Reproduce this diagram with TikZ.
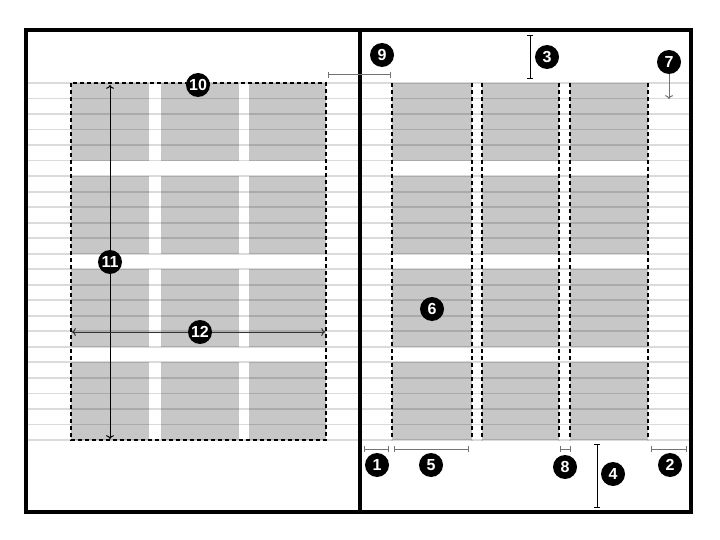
\documentclass[tikz,border=0pt]{standalone}
\usepackage{fontspec}
\newfontfamily\calloutfont{Liberation Sans}
\usetikzlibrary{arrows.meta}
\begin{document}
\begin{tikzpicture}[x=1pt, y=-1pt,
    frame/.style={line width=4.8pt},
    module/.style={fill=black!22},
    baseline/.style={line width=1.8pt, black, opacity=0.14},
    colguide/.style={line width=1.2pt, dash pattern=on 4pt off 3pt},
    callout/.style={circle, fill=black, text=white, minimum size=24pt, inner sep=0pt,
      font=\calloutfont\bfseries\fontsize{16}{16}\selectfont},
    measure/.style={line width=1pt, {Bar[width=6pt]}-{Bar[width=6pt]}},
    span/.style={line width=1pt, <->}]
  \useasboundingbox (0,0) rectangle (720,540);
  % modules
  \foreach \r in {0,6,12,18}
    \foreach \c/\d in {71/149, 161/239, 249/326, 392/472, 482/559, 570/648}
      \fill[module] (\c,{83+\r*15.52}) rectangle (\d,{83+(\r+5)*15.52});
  % baseline grid
  \foreach \k in {0,...,23}
    \draw[baseline] (26,{83+\k*15.52}) -- (691,{83+\k*15.52});
  % column guides
  \draw[colguide] (71,83) rectangle (326,440);
  \foreach \c in {392,472,482,559,570,648}
    \draw[colguide] (\c,83) -- (\c,440);
  % pages
  \draw[frame] (26,30) rectangle (691,512);
  \draw[frame] (360,30) -- (360,512);

  \coordinate (d1a) at (364,449);   \coordinate (d1b) at (389,449);
  \coordinate (d2a) at (651,449);   \coordinate (d2b) at (687,449);
  \coordinate (d3a) at (530,35);    \coordinate (d3b) at (530,79);
  \coordinate (d4a) at (597,444);   \coordinate (d4b) at (597,508);
  \coordinate (d5a) at (394,449);   \coordinate (d5b) at (469,449);
  \coordinate (d7) at (669,99);
  \coordinate (d8a) at (559.5,449); \coordinate (d8b) at (570.5,449);
  \coordinate (d9a) at (328,75);    \coordinate (d9b) at (391,75);
  \coordinate (d11a) at (110,85);   \coordinate (d11b) at (110,439);
  \coordinate (d12a) at (72,332);   \coordinate (d12b) at (325,332);

  \draw[measure, black!55] (d1a) -- (d1b);
  \draw[measure, black!55] (d2a) -- (d2b);
  \draw[measure] (d3a) -- (d3b);
  \draw[measure] (d4a) -- (d4b);
  \draw[measure, black!55] (d5a) -- (d5b);
  \draw[measure, black!55] (d8a) -- (d8b);
  \draw[measure, black!55] (d9a) -- (d9b);
  \draw[span] (d11a) -- (d11b);
  \draw[span, black!80] (d12a) -- (d12b);

  \node[callout] (c1) at (377,465) {1};
  \node[callout] (c2) at (670,465) {2};
  \node[callout] (c3) at (547,57) {3};
  \node[callout] (c4) at (613,474) {4};
  \node[callout] (c5) at (431,465) {5};
  \node[callout] (c6) at (432,309) {6};
  \node[callout] (c7) at (669,62) {7};
  \node[callout] (c8) at (565,467) {8};
  \node[callout] (c9) at (382,55) {9};
  \node[callout] (c10) at (198,85) {10};
  \node[callout] (c11) at (110,262) {11};
  \node[callout] (c12) at (200,332) {12};
  \draw[->, black!55, line width=1pt] (c7) -- (d7);
\end{tikzpicture}
\end{document}
